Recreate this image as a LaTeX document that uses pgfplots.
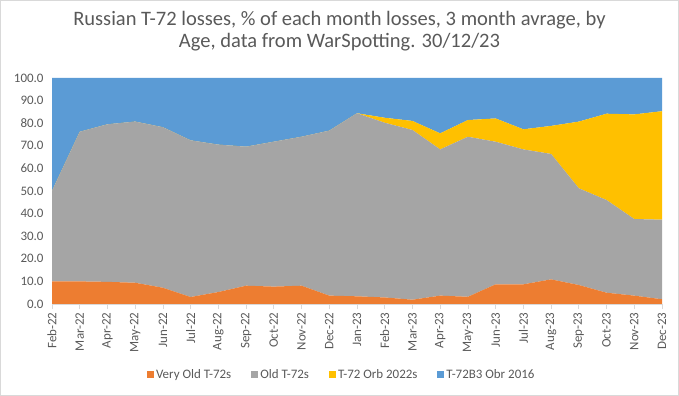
\documentclass[border=0pt]{standalone}
\usepackage{fontspec}
\setmainfont{Carlito}
\usepackage{pgfplots}
\usepackage{pgfplotstable}
\pgfplotsset{compat=1.18}
\definecolor{cOr}{HTML}{ED7D31}
\definecolor{cGr}{HTML}{A5A5A5}
\definecolor{cYe}{HTML}{FFC000}
\definecolor{cBl}{HTML}{5B9BD5}
\definecolor{cText}{HTML}{595959}
\definecolor{cAxis}{HTML}{D9D9D9}
\pgfplotstableread{
x vold old orb b3
0  10.0 40.0 0.0  50.0
1  10.0 66.2 0.0  23.8
2  9.8  69.7 0.0  20.5
3  9.4  71.3 0.0  19.3
4  7.2  71.0 0.0  21.8
5  3.1  69.3 0.0  27.6
6  5.3  65.2 0.0  29.5
7  8.1  61.5 0.0  30.4
8  7.7  64.1 0.0  28.2
9  8.1  65.9 0.0  26.0
10 3.7  73.0 0.0  23.3
11 3.4  81.0 0.0  15.6
12 2.9  77.3 2.2  17.6
13 1.9  75.1 4.0  19.0
14 3.7  64.7 7.1  24.5
15 3.2  70.8 7.4  18.6
16 8.7  63.1 10.3 17.9
17 8.7  59.7 8.9  22.7
18 10.9 55.5 12.4 21.2
19 8.4  42.8 29.5 19.3
20 5.0  41.0 38.2 15.8
21 3.7  33.9 46.3 16.1
22 2.1  35.2 48.0 14.7
}\data
\begin{document}
\begin{tikzpicture}
\path[use as bounding box] (0,0) rectangle (679bp,396bp);
\draw[color=cAxis, line width=0.75bp] (0.5bp,0.5bp) rectangle (678.5bp,395.5bp);
\node[text=cText, align=center, font=\fontsize{20.6}{22}\selectfont] at (339.5bp,365bp)
  {Russian T-72 losses, \% of each month losses, 3 month avrage, by\\Age, data from WarSpotting. 30/12/23};
\begin{axis}[
  at={(52bp,92bp)}, anchor=south west,
  scale only axis, width=610bp, height=226bp,
  xmin=0, xmax=22, ymin=0, ymax=100,
  stack plots=y,
  axis on top,
  axis x line*=bottom, axis y line*=left,
  x axis line style={-, draw=cAxis, line width=0.75bp},
  y axis line style={draw=none},
  xtick={0,...,22},
  xticklabels={Feb-22,Mar-22,Apr-22,May-22,Jun-22,Jul-22,Aug-22,Sep-22,Oct-22,Nov-22,Dec-22,Jan-23,Feb-23,Mar-23,Apr-23,May-23,Jun-23,Jul-23,Aug-23,Sep-23,Oct-23,Nov-23,Dec-23},
  ytick={0,10,...,100},
  tick align=outside,
  xtick style={draw=cAxis, line width=0.75bp},
  major tick length=5bp,
  ytick style={draw=none},
  xticklabel style={rotate=90, anchor=east, font=\fontsize{13}{15}\selectfont, text=cText},
  yticklabel style={font=\fontsize{13}{15}\selectfont, text=cText, /pgf/number format/.cd, fixed, fixed zerofill, precision=1},
  /pgf/number format/assume math mode=true,
  legend columns=4,
  legend image code/.code={\fill[#1] (0bp,-3.5bp) rectangle (7bp,3.5bp);},
  legend style={at={(0.475,-0.314)}, anchor=center, draw=none, fill=none,
    font=\fontsize{13}{15}\selectfont, text=cText,
    /tikz/every even column/.append style={column sep=18bp}},
]
\addplot[fill=cOr, draw=none] table[x=x,y=vold]{\data} \closedcycle;
\addplot[fill=cGr, draw=none] table[x=x,y=old]{\data} \closedcycle;
\addplot[fill=cYe, draw=none] table[x=x,y=orb]{\data} \closedcycle;
\addplot[fill=cBl, draw=none] table[x=x,y=b3]{\data} \closedcycle;
\legend{Very Old T-72s, Old T-72s, T-72 Orb 2022s, T-72B3 Obr 2016}
\end{axis}
\end{tikzpicture}
\end{document}
